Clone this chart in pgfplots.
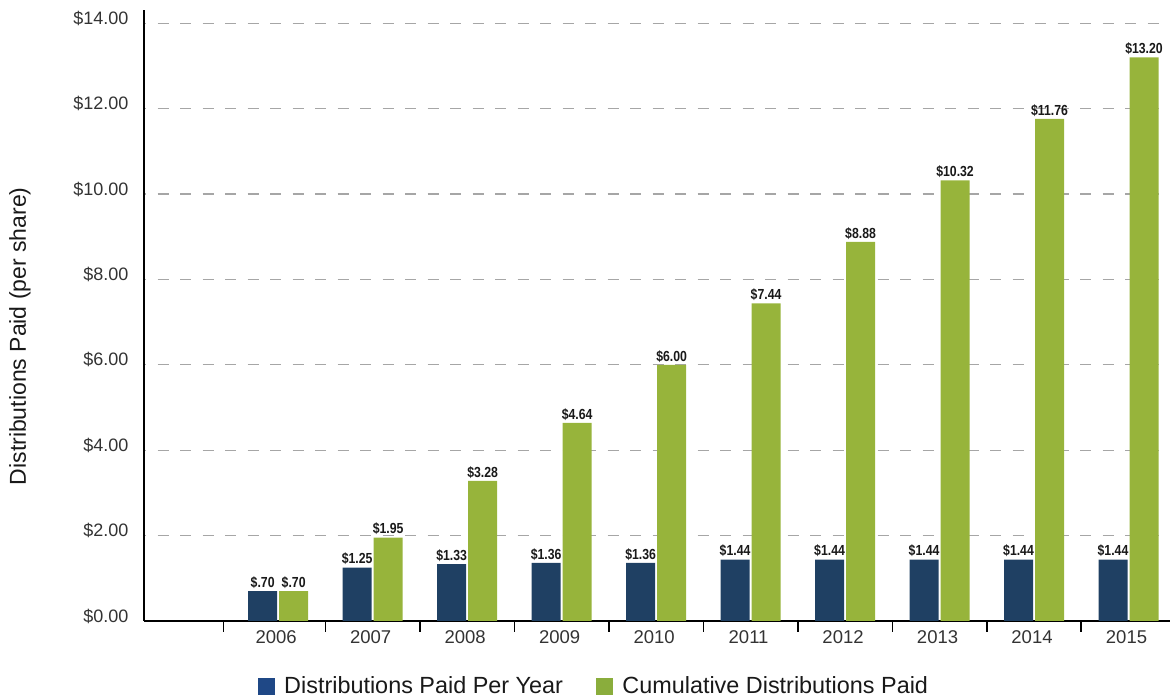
\documentclass[border=0pt]{standalone}
\usepackage{pgfplots}
\pgfplotsset{compat=1.18}
\usepackage{fontspec}
\setmainfont{Liberation Sans}
\newfontfamily\valfont[FakeStretch=0.84]{Liberation Sans}

\definecolor{barblue}{HTML}{1F4063}
\definecolor{bargreen}{HTML}{97B43B}
\definecolor{legblue}{HTML}{1F4886}
\definecolor{leggreen}{HTML}{8AAD3C}
\definecolor{ticktext}{HTML}{333333}

\begin{document}
\begin{tikzpicture}
\begin{axis}[
    at={(144pt,77pt)}, anchor=south west,
    scale only axis, width=1026pt, height=611pt,
    xmin=-1.42, xmax=9.44, ymin=0, ymax=14.31,
    axis x line=bottom, axis y line=left,
    axis line style={-, line width=1.6pt, black},
    ybar, bar width=29pt,
    major tick length=0pt,
    xtick align=outside,
    xtick={0,...,9},
    xticklabels={2006,2007,2008,2009,2010,2011,2012,2013,2014,2015},
    extra x ticks={-0.58,0.5,1.5,2.5,3.5,4.5,5.5,6.5,7.5,8.5},
    extra x tick labels={},
    extra x tick style={major tick length=11pt, major tick style={line width=1.6pt, black}},
    x tick label style={font=\fontsize{18.5}{20}\selectfont, text=ticktext, yshift=-6pt, xshift=-2pt},
    ytick={0,2,...,14},
    yticklabels={\$0.00,\$2.00,\$4.00,\$6.00,\$8.00,\$10.00,\$12.00,\$14.00},
    y tick label style={font=\fontsize{18}{20}\selectfont, text=ticktext, xshift=-12pt, yshift=5pt},
    ymajorgrids,
    major grid style={gray!70, line width=1.1pt, dash pattern=on 11pt off 11.5pt, dash phase=9pt},
    ylabel={Distributions Paid (per share)},
    ylabel style={at={(axis description cs:-0.121,0.466)}, anchor=center, font=\fontsize{23}{26}\selectfont, text=black!90},
    legend style={at={(axis description cs:0.439,-0.1064)}, anchor=center, draw=none, fill=none,
        font=\fontsize{23.4}{26}\selectfont, text=black!90,
        nodes={inner sep=3pt},
        /tikz/every odd column/.append style={column sep=7pt},
        /tikz/every even column/.append style={column sep=30pt}},
    legend columns=2,
    every node near coord/.append style={font=\valfont\bfseries\fontsize{14.6}{15}\selectfont, text=black!90, inner sep=2.5pt},
]

\addplot[bar shift=-15.5pt, fill=barblue, draw=none, forget plot,
    nodes near coords, point meta=explicit symbolic] coordinates {
(0,0.70) [\$.70]
(1,1.25) [\$1.25]
(2,1.33) [\$1.33]
(3,1.36) [\$1.36]
(4,1.36) [\$1.36]
(5,1.44) [\$1.44]
(6,1.44) [\$1.44]
(7,1.44) [\$1.44]
(8,1.44) [\$1.44]
(9,1.44) [\$1.44]
};

\addplot[bar shift=15.5pt, fill=bargreen, draw=none, forget plot,
    nodes near coords, point meta=explicit symbolic] coordinates {
(0,0.70) [\$.70]
(1,1.95) [\$1.95]
(2,3.28) [\$3.28]
(3,4.64) [\$4.64]
(4,6.00) [\$6.00]
(5,7.44) [\$7.44]
(6,8.88) [\$8.88]
(7,10.32) [\$10.32]
(8,11.76) [\$11.76]
(9,13.20) [\$13.20]
};

\addlegendimage{legend image code/.code={\fill[legblue] (0pt,-8pt) rectangle (16pt,8pt);}}
\addlegendentry{Distributions Paid Per Year}
\addlegendimage{legend image code/.code={\fill[leggreen] (0pt,-8pt) rectangle (16pt,8pt);}}
\addlegendentry{Cumulative Distributions Paid}

\end{axis}
\pgfresetboundingbox
\useasboundingbox (0,0) rectangle (1170pt,698pt);
\end{tikzpicture}
\end{document}
